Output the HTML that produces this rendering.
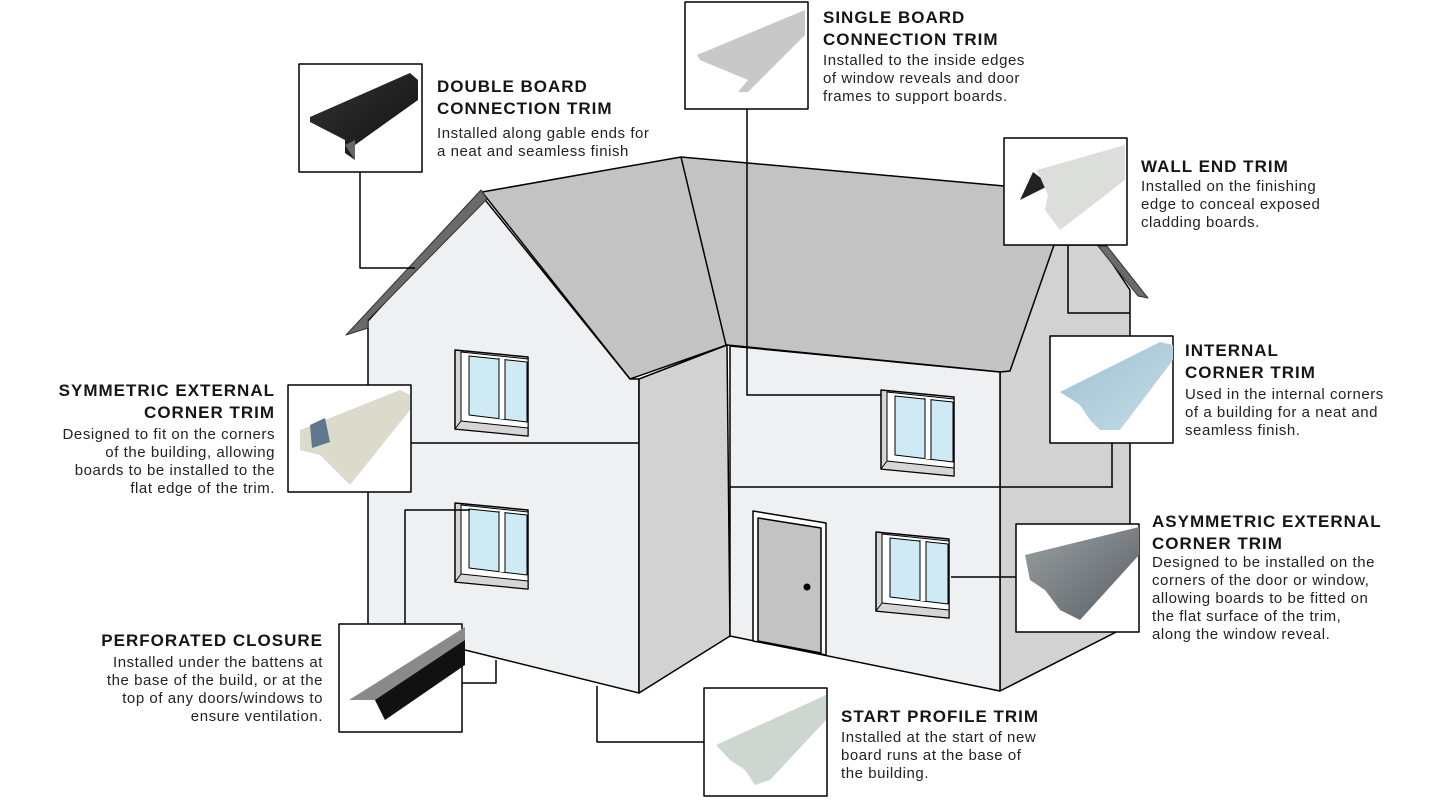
<!DOCTYPE html>
<html><head><meta charset="utf-8"><style>
body{margin:0;background:#fff;}
#w{position:relative;width:1443px;height:800px;overflow:hidden;font-family:"Liberation Sans",sans-serif;color:#1a1a1a;}
svg{position:absolute;left:0;top:0;}
.t{position:absolute;font-weight:bold;font-size:17px;line-height:22px;letter-spacing:1px;white-space:nowrap;color:#151515;}
.d{position:absolute;font-size:15px;line-height:18px;white-space:nowrap;letter-spacing:0.55px;color:#222;}
.r{text-align:right;}
</style></head><body><div id="w">
<svg width="1443" height="800" viewBox="0 0 1443 800">
<defs>
<linearGradient id="gBlack" x1="0" y1="0" x2="1" y2="1"><stop offset="0" stop-color="#333"/><stop offset="1" stop-color="#111"/></linearGradient>
<linearGradient id="gBlue" x1="0" y1="0" x2="1" y2="1"><stop offset="0" stop-color="#9fc0d0"/><stop offset="1" stop-color="#c4dde8"/></linearGradient>
<linearGradient id="gGrey" x1="0" y1="0" x2="1" y2="1"><stop offset="0" stop-color="#9a9fa2"/><stop offset="1" stop-color="#5a6064"/></linearGradient>
</defs>
<g stroke="#000" stroke-width="1.5" stroke-linejoin="round">
<polygon points="1000,372 1054,245 1100,245 1130,290 1130,625 1000,691" fill="#d2d2d2"/>
<polygon points="1098,246 1107,246 1148,298 1138,296" fill="#6a6a6a" stroke="#333" stroke-width="1"/>
<polygon points="482,192 681,157 1004,186 1054,245 1010,371 1000,372 727,345 630,379" fill="#c3c3c3"/>
<line x1="681" y1="157" x2="726" y2="345"/>
<polygon points="368,321 482,196 630,379 639,379 639,693 368,626" fill="#eff0f2"/>
<polygon points="346,335 481,190 487,199 368,320 368,328" fill="#6a6a6a" stroke="#333" stroke-width="1"/>
<polygon points="639,379 727,345 730,636 639,693" fill="#d2d2d2"/>
<polygon points="730,346 1000,372 1000,691 730,636" fill="#eff0f2"/>
<line x1="411" y1="443" x2="639" y2="443"/>
<line x1="730" y1="487" x2="1113" y2="487"/>
<polygon points="753,511 826,523 826,655 753,641" fill="#fff"/>
<polygon points="758,518 821,528 821,653 758,641" fill="#c3c3c3"/>
<circle cx="807" cy="587" r="3.5" fill="#000" stroke="none"/>
<g id="win1">
<polygon points="455,350 528,357 528,436 455,429" fill="#d6d6d6"/>
<polygon points="461,352 528,359 528,432 461,424" fill="#fff" stroke-width="1"/>
<polygon points="469,356 527,362 527,422 469,415" fill="#cdeaf5" stroke-width="1"/>
<line x1="502" y1="358" x2="502" y2="419" stroke="#fff" stroke-width="5"/>
<line x1="499" y1="358" x2="499" y2="418" stroke-width="1"/><line x1="505" y1="359" x2="505" y2="419" stroke-width="1"/>
<polygon points="455,429 528,436 528,428 461,421" fill="#d6d6d6" stroke-width="1"/>
</g>
<use href="#win1" transform="translate(0,153)"/>
<use href="#win1" transform="translate(426,40)"/>
<use href="#win1" transform="translate(421,182)"/>
<g fill="none">
<polyline points="360,172 360,268 415,268"/>
<polyline points="747,109 747,395 881,395"/>
<polyline points="1068,245 1068,313 1130,313"/>
<polyline points="1112,443 1112,487"/>
<line x1="951" y1="577" x2="1016" y2="577"/>
<polyline points="405,624 405,510 470,510"/>
<polyline points="462,683 496,683 496,660"/>
<polyline points="704,742 597,742 597,686"/>
</g>
<g fill="#fff">
<rect x="299" y="64" width="123" height="108"/>
<rect x="685" y="2" width="123" height="107"/>
<rect x="1004" y="138" width="123" height="107"/>
<rect x="1050" y="336" width="123" height="107"/>
<rect x="288" y="385" width="123" height="107"/>
<rect x="1016" y="524" width="123" height="108"/>
<rect x="339" y="624" width="123" height="108"/>
<rect x="704" y="688" width="123" height="108"/>
</g>
</g>
<polygon points="310,117 410,73 418,80 418,100 355,145 355,160 345,153 345,140 310,122" fill="url(#gBlack)"/>
<polygon points="345,145 355,140 355,160" fill="#666"/>
<polygon points="697,55 805,10 805,35 760,80 748,92 738,92 748,80 700,60" fill="#c8c8c8"/>
<polygon points="1020,200 1033,172 1050,185" fill="#222"/>
<polygon points="1037,170 1125,145 1125,180 1060,230 1045,210 1048,195" fill="#dcdedb"/>
<polygon points="1060,392 1160,342 1173,345 1173,360 1120,430 1100,430 1090,420 1080,405" fill="url(#gBlue)"/>
<polygon points="300,430 400,390 410,395 410,410 350,485 335,470 320,455 300,450" fill="#dcdacb"/>
<polygon points="310,425 325,418 330,442 312,448" fill="#5f7890"/>
<polygon points="1025,555 1139,527 1139,555 1080,620 1060,610 1045,590 1030,580" fill="url(#gGrey)"/>
<polygon points="349,700 465,627 465,660 385,720 375,700" fill="#8a8a8a"/>
<polygon points="375,700 465,640 465,665 385,720" fill="#111"/>
<polygon points="716,745 826,695 826,720 770,780 755,785 745,770 730,760" fill="#cdd6cf"/>
</svg>
<div class="t" style="left:437px;top:76px">DOUBLE BOARD<br>CONNECTION TRIM</div>
<div class="d" style="left:437px;top:125px">Installed along gable ends for<br>a neat and seamless finish</div>
<div class="t" style="left:823px;top:7px">SINGLE BOARD<br>CONNECTION TRIM</div>
<div class="d" style="left:823px;top:52px">Installed to the inside edges<br>of window reveals and door<br>frames to support boards.</div>
<div class="t" style="left:1141px;top:156px">WALL END TRIM</div>
<div class="d" style="left:1141px;top:178px">Installed on the finishing<br>edge to conceal exposed<br>cladding boards.</div>
<div class="t" style="left:1185px;top:340px">INTERNAL<br>CORNER TRIM</div>
<div class="d" style="left:1185px;top:386px">Used in the internal corners<br>of a building for a neat and<br>seamless finish.</div>
<div class="t r" style="right:1168px;top:380px">SYMMETRIC EXTERNAL<br>CORNER TRIM</div>
<div class="d r" style="right:1168px;top:426px">Designed to fit on the corners<br>of the building, allowing<br>boards to be installed to the<br>flat edge of the trim.</div>
<div class="t" style="left:1152px;top:511px">ASYMMETRIC EXTERNAL<br>CORNER TRIM</div>
<div class="d" style="left:1152px;top:554px">Designed to be installed on the<br>corners of the door or window,<br>allowing boards to be fitted on<br>the flat surface of the trim,<br>along the window reveal.</div>
<div class="t r" style="right:1120px;top:630px">PERFORATED CLOSURE</div>
<div class="d r" style="right:1120px;top:654px">Installed under the battens at<br>the base of the build, or at the<br>top of any doors/windows to<br>ensure ventilation.</div>
<div class="t" style="left:841px;top:706px">START PROFILE TRIM</div>
<div class="d" style="left:841px;top:729px">Installed at the start of new<br>board runs at the base of<br>the building.</div>
</div></body></html>
